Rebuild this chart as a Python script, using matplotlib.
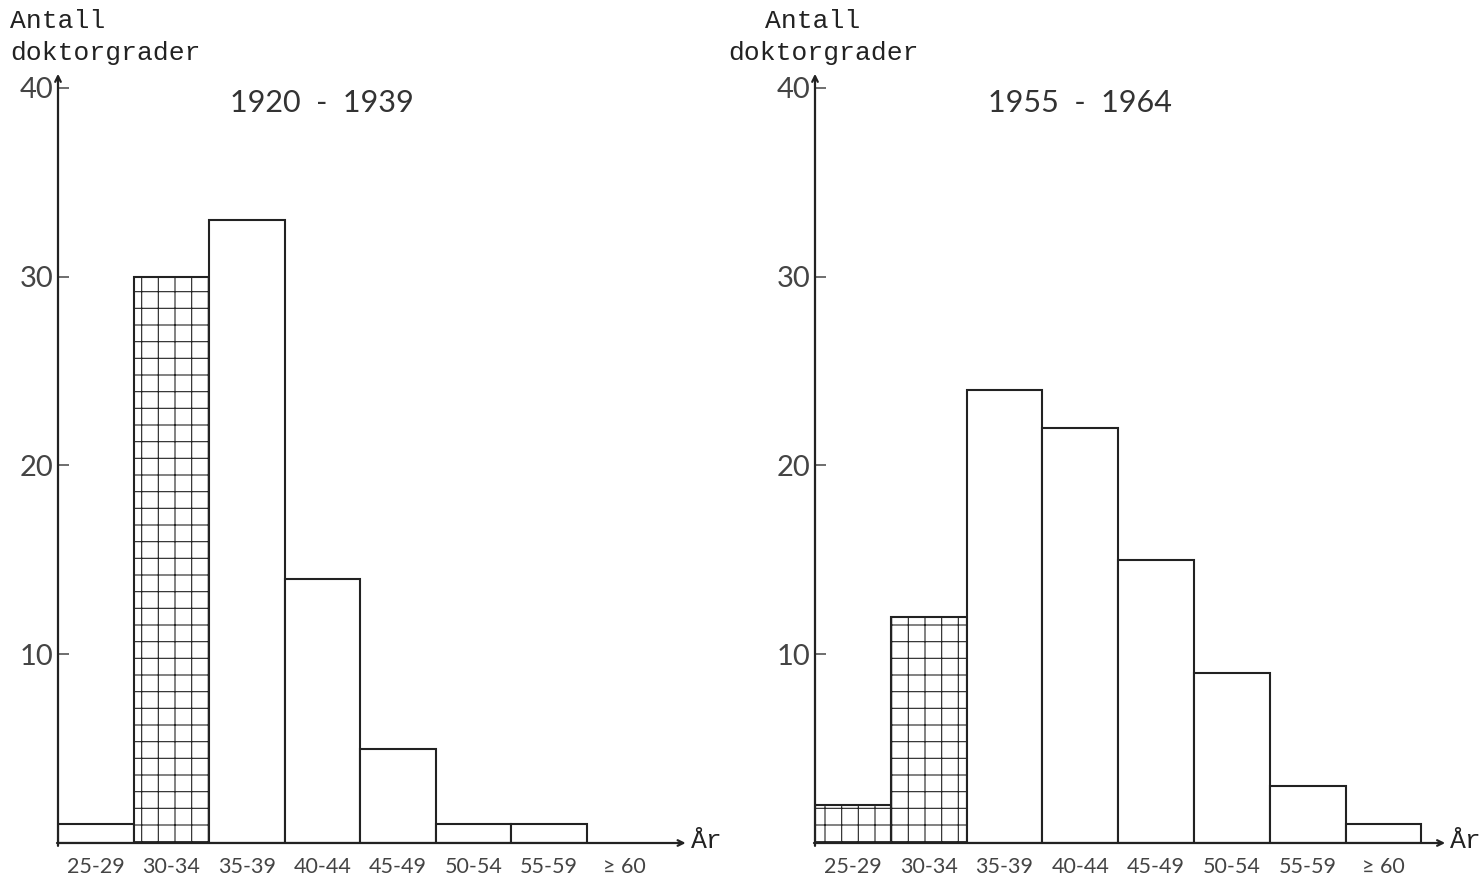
import matplotlib
matplotlib.use('Agg')
import matplotlib.pyplot as plt

# age groups (x categories)
groups = ['25-29', '30-34', '35-39', '40-44', '45-49', '50-54', '55-59', '≥ 60']

# number of doctoral degrees per age group
counts_1920 = [1, 30, 33, 14, 5, 1, 1, 0]
counts_1955 = [2, 12, 24, 22, 15, 9, 3, 1]

# which bars are cross-hatched
hatched_1920 = [False, True, False, False, False, False, False, False]
hatched_1955 = [True, True, False, False, False, False, False, False]

periods = ['1920  -  1939', '1955  -  1964']
yticks = [10, 20, 30, 40]

sans = 'Lato'
mono = 'Liberation Mono'
plt.rcParams['hatch.color'] = '#a0a0a0'
plt.rcParams['hatch.linewidth'] = 0.8


def draw_panel(ax, counts, hatched, title):
    xs = [i + 0.5 for i in range(len(counts))]
    for x, c, h in zip(xs, counts, hatched):
        if c == 0:
            continue
        ax.bar(x, c, width=1.0, facecolor='white', edgecolor='#222222',
               linewidth=1.5, hatch='+' if h else None, zorder=2)
    ax.set_xlim(0, 8.7)
    ax.set_ylim(0, 41.2)
    for s in ax.spines.values():
        s.set_visible(False)
    ax.set_yticks(yticks)
    ax.set_yticklabels([str(t) for t in yticks], fontsize=21,
                       family=sans, color='#444444')
    ax.tick_params(axis='y', direction='in', length=8, width=1.2, pad=3,
                   color='#555555')
    ax.set_xticks(xs)
    ax.set_xticklabels(groups, fontsize=15.5, family=sans, color='#444444')
    ax.tick_params(axis='x', length=0, pad=10)
    # axes with arrows
    ax.annotate('', xy=(0, 40.9), xytext=(0, -0.3),
                arrowprops=dict(arrowstyle='->', lw=1.6, color='#222222'),
                annotation_clip=False, zorder=3)
    ax.annotate('', xy=(8.35, 0), xytext=(-0.05, 0),
                arrowprops=dict(arrowstyle='->', lw=1.6, color='#222222'),
                annotation_clip=False, zorder=3)
    ax.text(8.38, 0.1, 'År', fontsize=19, family=mono, va='center',
            ha='left', color='#222222', clip_on=False)
    ax.text(3.5, 39.2, title, fontsize=22, family=sans,
            ha='center', va='center', color='#333333')
    ax.patch.set_alpha(0)


fig = plt.figure(figsize=(14.83, 8.81), dpi=100)
bottom = 38 / 881
height = 41.2 * 18.875 / 881

ax1 = fig.add_axes([58 / 1483, bottom, 8.7 * 75.5 / 1483, height])
draw_panel(ax1, counts_1920, hatched_1920, periods[0])

ax2 = fig.add_axes([815 / 1483, bottom, 8.7 * 75.8 / 1483, height])
draw_panel(ax2, counts_1955, hatched_1955, periods[1])

# typewriter y-axis labels
fig.text(10 / 1483, 1 - 9 / 881, 'Antall', family=mono,
         fontsize=19, va='top', ha='left', color='#222222')
fig.text(10 / 1483, 1 - 41 / 881, 'doktorgrader', family=mono,
         fontsize=19, va='top', ha='left', color='#222222')
fig.text(765 / 1483, 1 - 9 / 881, 'Antall', family=mono,
         fontsize=19, va='top', ha='left', color='#222222')
fig.text(728 / 1483, 1 - 41 / 881, 'doktorgrader', family=mono,
         fontsize=19, va='top', ha='left', color='#222222')

fig.savefig('out.png', dpi=100, facecolor='white')
